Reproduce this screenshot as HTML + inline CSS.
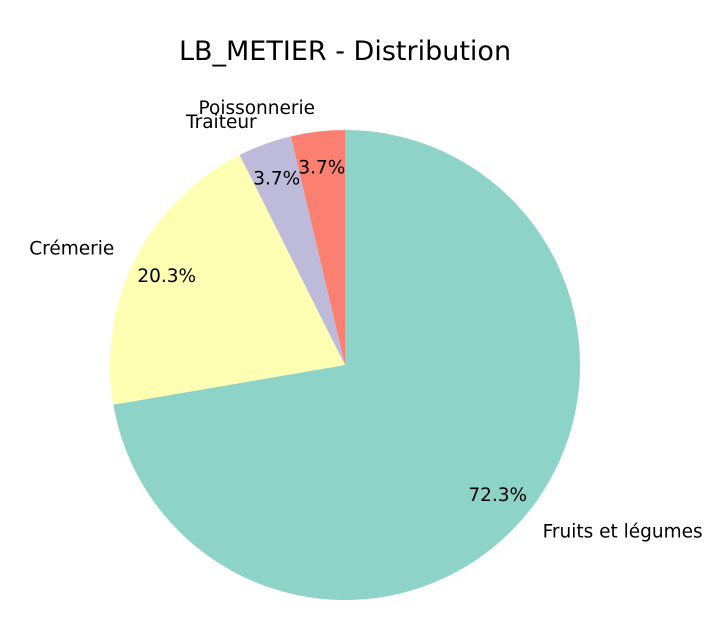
<!DOCTYPE html>
<html><head><meta charset="utf-8"><style>
body{margin:0;background:#fff;}
svg{display:block;font-family:"DejaVu Sans","Liberation Sans",sans-serif;}
</style></head><body>
<svg id="chart" width="727" height="620">
<text x="345" y="60" text-anchor="middle" font-size="27" fill="#000">LB_METIER - Distribution</text>
<g id="slices"></g><g id="labels"></g>
</svg>
<script>
const categories=["Fruits et légumes","Crémerie","Traiteur","Poissonnerie"];
const values=[72.3,20.3,3.7,3.7];
const colors=["#8dd3c7","#ffffb3","#bebada","#fb8072"];
const cx=345,cy=365,r=235,NS="http://www.w3.org/2000/svg";
const total=values.reduce((a,b)=>a+b,0);
const gs=document.getElementById('slices'),gl=document.getElementById('labels');
function pt(deg,d){const a=deg*Math.PI/180;return [cx+d*Math.cos(a),cy-d*Math.sin(a)];}
let start=90;
values.forEach((v,i)=>{
  const sweep=v/total*360,end=start-sweep;
  const [x1,y1]=pt(start,r),[x2,y2]=pt(end,r);
  const p=document.createElementNS(NS,'path');
  p.setAttribute('d',`M${cx},${cy}L${x1},${y1}A${r},${r} 0 ${sweep>180?1:0} 1 ${x2},${y2}Z`);
  p.setAttribute('fill',colors[i]);
  
  
  gs.appendChild(p);
  const mid=start-sweep/2;
  const [lx,ly]=pt(mid,r*1.1);
  const t=document.createElementNS(NS,'text');
  t.setAttribute('x',lx);t.setAttribute('y',ly+6);
  t.setAttribute('font-size','18.5');
  t.setAttribute('text-anchor',Math.cos(mid*Math.PI/180)<0?'end':'start');
  t.textContent=categories[i];
  
  
  gl.appendChild(t);
  const [px,py]=pt(mid,r*0.85);
  const q=document.createElementNS(NS,'text');
  q.setAttribute('x',px);q.setAttribute('y',py+7);
  q.setAttribute('font-size','18.5');q.setAttribute('text-anchor','middle');
  q.textContent=v.toFixed(1)+'%';
  
  
  gl.appendChild(q);
  start=end;
});
</script>
</body></html>
